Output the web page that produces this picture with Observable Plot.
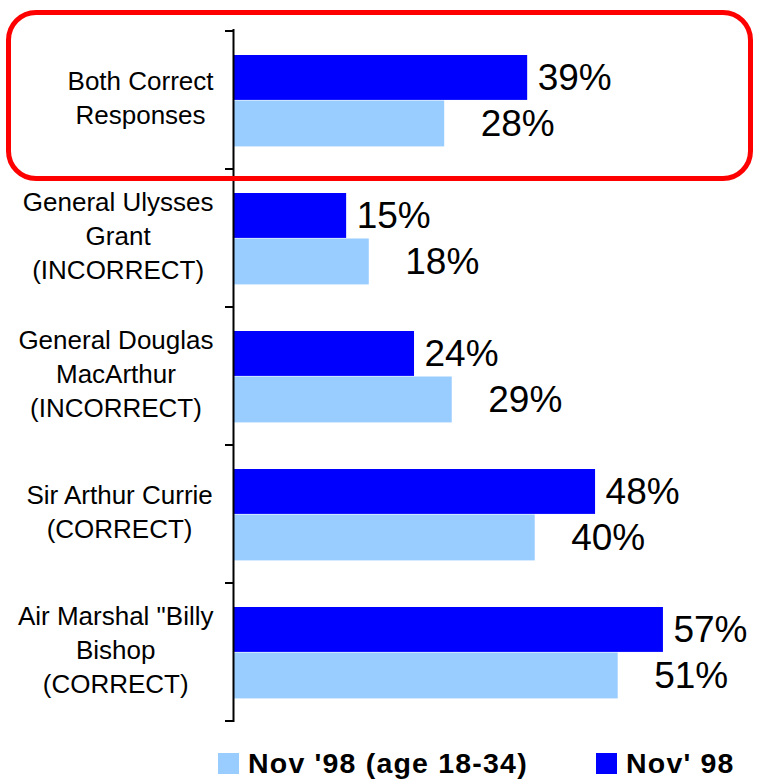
<!DOCTYPE html>
<html>
<head>
<meta charset="utf-8">
<script src="https://cdn.jsdelivr.net/npm/d3@7"></script>
<script src="https://cdn.jsdelivr.net/npm/@observablehq/plot@0.6"></script>
<style>
  body { margin: 0; background: #ffffff; font-family: "Liberation Sans", Arial, Helvetica, sans-serif; }
  #wrap { position: relative; width: 766px; height: 783px; overflow: hidden; }
  #chart { position: absolute; left: 0; top: 0; }
  #chart svg { display: block; }
  #highlight { position: absolute; left: 6px; top: 10px; width: 747px; height: 171px; box-sizing: border-box;
               border: 5px solid #ff0000; border-radius: 30px; pointer-events: none; }
  .legend-item { position: absolute; top: 753px; height: 21px; display: flex; align-items: center;
                 font-weight: bold; font-size: 28.5px; letter-spacing: 1.2px; color: #000; white-space: nowrap; }
  .legend-item .sw { width: 21px; height: 21px; margin-right: 9px; flex: none; }
</style>
</head>
<body>
<div id="wrap">
  <div id="chart"></div>
  <div id="highlight"></div>
  <div id="legend"></div>
</div>
<script>
// ---- data ----
const categories = [
  "Both Correct Responses",
  "General Ulysses Grant (INCORRECT)",
  "General Douglas MacArthur (INCORRECT)",
  "Sir Arthur Currie (CORRECT)",
  "Air Marshal \"Billy Bishop (CORRECT)"
];
const categoryLines = [
  ["Both Correct", "Responses"],
  ["General Ulysses", "Grant", "(INCORRECT)"],
  ["General Douglas", "MacArthur", "(INCORRECT)"],
  ["Sir Arthur Currie", "(CORRECT)"],
  ["Air Marshal \"Billy", "Bishop", "(CORRECT)"]
];
const seriesNames = ["Nov' 98", "Nov '98 (age 18-34)"];
const nov98 = [39, 15, 24, 48, 57];
const nov98Young = [28, 18, 29, 40, 51];
const legendOrder = ["Nov '98 (age 18-34)", "Nov' 98"];

// ---- build table ----
const rows = categories.flatMap((c, i) => [
  {category: c, series: seriesNames[0], value: nov98[i]},
  {category: c, series: seriesNames[1], value: nov98Young[i]}
]);
const darkRows = rows.filter(d => d.series === seriesNames[0]);
const lightRows = rows.filter(d => d.series === seriesNames[1]);

const FONT = "'Liberation Sans', Arial, Helvetica, sans-serif";
const colorRange = ["#0000ff", "#99ccff"];

// measure category label widths to center each block against a right edge
const ctx = document.createElement("canvas").getContext("2d");
const catFontSize = 26;
ctx.font = `${catFontSize}px ${FONT}`;
const labelRightGap = 20; // px between label block right edge and axis

const categoryLabelMarks = categories.map((c, i) => {
  const lines = categoryLines[i];
  const maxW = d3.max(lines, l => ctx.measureText(l).width);
  return Plot.text([c], {
    y: d => d,
    frameAnchor: "left",
    text: () => lines.join("\n"),
    textAnchor: "middle",
    lineHeight: 1.31,
    dx: -(labelRightGap + maxW / 2),
    dy: -4,
    fontSize: catFontSize,
    fontFamily: FONT,
    fill: "#000"
  });
});

// axis ticks between categories (drawn from the y band scale)
function categoryTicks(index, scales, values, dimensions) {
  const y = scales.y;
  const bw = y.bandwidth();
  const ys = categories.map(c => y(c));
  ys.push(y(categories[categories.length - 1]) + bw);
  const g = d3.create("svg:g").attr("stroke", "#000").attr("stroke-width", 2);
  g.selectAll("line").data(ys).join("line")
    .attr("x1", dimensions.marginLeft - 8)
    .attr("x2", dimensions.marginLeft)
    .attr("y1", d => d)
    .attr("y2", d => d);
  return g.node();
}

const bandPx = (735 - 29 - 13) / categories.length;

const chart = Plot.plot({
  width: 766,
  height: 735,
  marginLeft: 233,
  marginRight: 5,
  marginTop: 29,
  marginBottom: 13,
  style: {fontFamily: FONT, background: "transparent"},
  x: {domain: [0, 70], axis: null},
  y: {domain: categories, padding: 0, axis: null},
  color: {domain: seriesNames, range: colorRange},
  marks: [
    Plot.barX(darkRows, {x: "value", y: "category", fill: "series",
      insetTop: 24, insetBottom: bandPx - 69.5}),
    Plot.barX(lightRows, {x: "value", y: "category", fill: "series",
      insetTop: 69.5, insetBottom: bandPx - 116}),
    Plot.ruleX([0], {stroke: "#000", strokeWidth: 2}),
    categoryTicks,
    Plot.text(darkRows, {x: "value", y: "category", text: d => `${d.value}%`,
      textAnchor: "start", dx: 10, dy: -22.5, fontSize: 37, fontFamily: FONT, fill: "#000"}),
    Plot.text(lightRows, {x: "value", y: "category", text: d => `${d.value}%`,
      textAnchor: "start", dx: 36, dy: 23.5, fontSize: 37, fontFamily: FONT, fill: "#000"}),
    ...categoryLabelMarks
  ]
});
document.getElementById("chart").appendChild(chart);

// ---- legend ----
const legend = document.getElementById("legend");
const legendLeft = [218, 596];
legendOrder.forEach((name, i) => {
  const item = document.createElement("div");
  item.className = "legend-item";
  item.style.left = legendLeft[i] + "px";
  const sw = document.createElement("span");
  sw.className = "sw";
  sw.style.background = colorRange[seriesNames.indexOf(name)];
  const label = document.createElement("span");
  label.textContent = name;
  item.appendChild(sw);
  item.appendChild(label);
  legend.appendChild(item);
});
</script>
</body>
</html>
